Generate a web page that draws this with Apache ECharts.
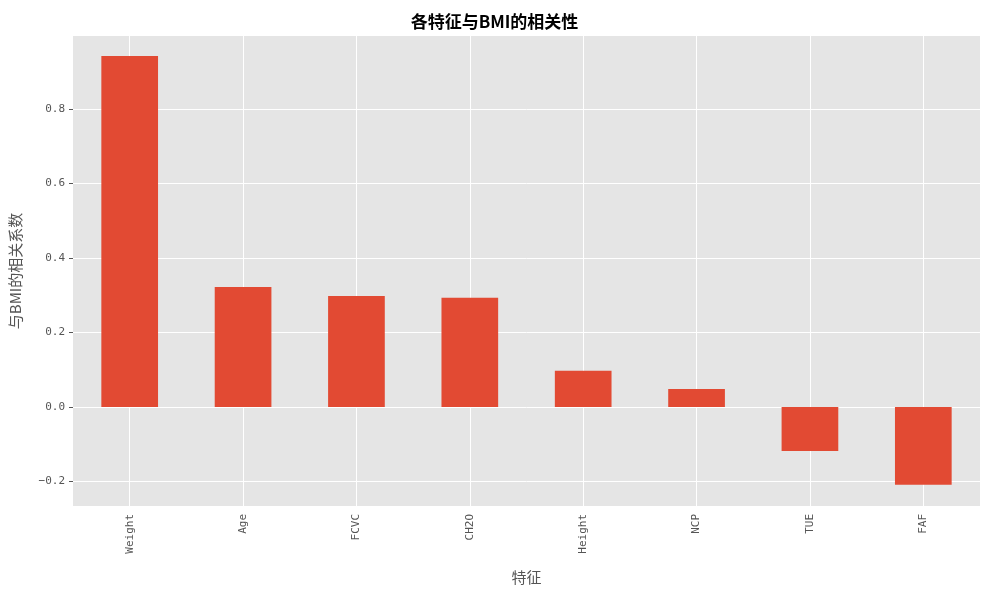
<!DOCTYPE html>
<html>
<head>
<meta charset="utf-8">
<title>各特征与BMI的相关性</title>
<script src="https://cdn.jsdelivr.net/npm/echarts@6/dist/echarts.min.js"></script>
<style>
  html, body { margin: 0; padding: 0; background: #fff; }
  #chart { width: 989px; height: 590px; }
</style>
</head>
<body>
<div id="chart"></div>
<script>
var features = ['Weight', 'Age', 'FCVC', 'CH2O', 'Height', 'NCP', 'TUE', 'FAF'];
var corr = [0.942, 0.322, 0.298, 0.293, 0.097, 0.048, -0.118, -0.209];
var yTicks = [-0.2, 0, 0.2, 0.4, 0.6, 0.8];

var font = '"DejaVu Sans Mono", "Noto Sans CJK SC", monospace';
var chart = echarts.init(document.getElementById('chart'));
chart.setOption({
  animation: false,
  title: {
    text: '各特征与BMI的相关性',
    left: 'center', top: 8,
    textStyle: { fontFamily: '"Noto Sans CJK SC"', fontSize: 17, fontWeight: 'bold', color: '#000' }
  },
  grid: { left: 70, right: 9, top: 36, bottom: 84, backgroundColor: '#e5e5e5', show: true, borderWidth: 0 },
  xAxis: {
    type: 'category',
    data: features,
    name: '特征', nameLocation: 'middle', nameGap: 64,
    nameTextStyle: { fontFamily: '"Noto Sans CJK SC"', fontSize: 15, color: '#555' },
    axisLine: { show: false },
    axisTick: { alignWithLabel: true, length: 4, lineStyle: { color: '#555' } },
    axisLabel: { rotate: 90, fontFamily: font, fontSize: 11, color: '#555' },
    splitLine: { show: true, alignWithLabel: true, lineStyle: { color: '#fff', width: 1 } }
  },
  yAxis: {
    type: 'value',
    min: -0.266, max: 0.996,
    name: '与BMI的相关系数', nameLocation: 'middle', nameGap: 50,
    nameTextStyle: { fontFamily: '"Noto Sans CJK SC"', fontSize: 15, color: '#555' },
    axisLine: { show: false },
    axisTick: { show: true, length: 4, customValues: yTicks, lineStyle: { color: '#555' } },
    axisLabel: { customValues: yTicks, fontFamily: font, fontSize: 11, color: '#555',
      formatter: function (v) { return (v < 0 ? '\u2212' + Math.abs(v).toFixed(1) : v.toFixed(1)); } },
    splitLine: { show: true, lineStyle: { color: '#fff', width: 1 } }
  },
  series: [{
    type: 'bar',
    data: corr,
    barWidth: '50%',
    itemStyle: { color: '#E24A33' }
  }]
});
</script>
</body>
</html>
